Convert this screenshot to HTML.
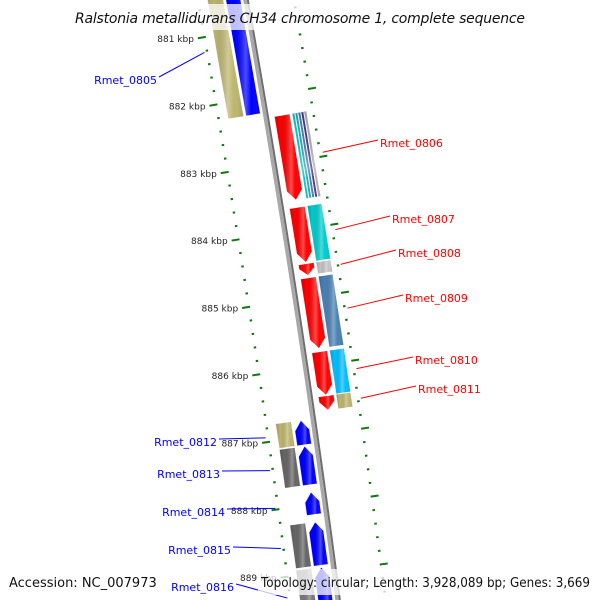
<!DOCTYPE html>
<html><head><meta charset="utf-8"><style>
html,body{margin:0;padding:0;background:#fff;width:600px;height:600px;overflow:hidden}
svg{display:block}
text{font-family:"DejaVu Sans","Liberation Sans",sans-serif}
</style></head><body>
<svg id="map" width="600" height="600" viewBox="0 0 600 600" xmlns="http://www.w3.org/2000/svg">
<defs>
<linearGradient id="shade" x1="0" y1="0" x2="1" y2="0">
<stop offset="0" stop-color="#000" stop-opacity="0.18"/>
<stop offset="0.25" stop-color="#000" stop-opacity="0"/>
<stop offset="0.6" stop-color="#fff" stop-opacity="0.3"/>
<stop offset="0.75" stop-color="#fff" stop-opacity="0"/>
<stop offset="1" stop-color="#000" stop-opacity="0.15"/>
</linearGradient>
</defs>
<g id="layer"></g>
</svg>
<script>
// data (kbp)
const featNames  = ["Rmet_0805","Rmet_0806","Rmet_0807","Rmet_0808","Rmet_0809","Rmet_0810","Rmet_0811","Rmet_0812","Rmet_0813","Rmet_0814","Rmet_0815","Rmet_0816"];
const featStart  = [880.2,882.31,883.67,884.50,884.71,885.80,886.45,886.75,887.13,887.81,888.25,888.92];
const featEnd    = [882.24,883.57,884.49,884.68,885.76,886.45,886.67,887.12,887.71,888.15,888.90,889.7];
const featStrand = [-1,1,1,1,1,1,1,-1,-1,-1,-1,-1];
const cogColor   = ["#bdb56f","multi","#00cccc","#c4c4c4","#4a80b4","#00bfff","#bdb56f","#bdb56f","#666666","","#666666","#777777"];
const tickKbp    = [881,882,883,884,885,886,887,888,889];
const labelX     = [157,378,390,396,403,413,416,217,220,225,231,234];
const labelY     = [80,143,219,253,298,360,389,442,474,512,550,587];

const svg = document.getElementById('layer');
const NS = 'http://www.w3.org/2000/svg';
function tOf(k){ return 29 + (k-881)*67.7; }
function bx(t){ return 246 + 0.177*t - 3.94e-5*t*t; }
function slope(t){ return 0.177 - 2*3.94e-5*t; }
function pt(t,r){ const s=slope(t), n=Math.sqrt(1+s*s); return [bx(t)+r/n, t - r*s/n]; }
function mk(tag, attrs){ const e=document.createElementNS(NS,tag); for(const k in attrs) e.setAttribute(k,attrs[k]); svg.appendChild(e); return e; }
function poly(pts){ return pts.map(p=>p[0].toFixed(2)+','+p[1].toFixed(2)).join(' '); }

// backbone
let bb1=[], bb2=[];
for(let t=-20;t<=630;t+=10){ bb1.push(pt(t,-1)); bb2.push(pt(t,1.8)); }
let e=mk('polyline',{points:poly(bb1),fill:'none',stroke:'#a8a8a8','stroke-width':3.5});


e=mk('polyline',{points:poly(bb2),fill:'none',stroke:'#6e6e6e','stroke-width':2});



// rulers
for(let k=880; k<=889.8; k+=0.2){
  const kk=Math.round(k*10)/10, t=tOf(kk), major=Math.abs(kk-Math.round(kk))<0.01;
  const lenL = major?8:2.5;
  let a=pt(t,-46), b=pt(t,-46-lenL);
  e=mk('line',{x1:a[0],y1:a[1],x2:b[0],y2:b[1],stroke:'#117711','stroke-width':2});
  
  
  a=pt(t,46); b=pt(t,46+lenL);
  e=mk('line',{x1:a[0],y1:a[1],x2:b[0],y2:b[1],stroke:'#117711','stroke-width':2});
  
  
}
tickKbp.forEach(k=>{
  const p=pt(tOf(k),-58);
  e=mk('text',{x:p[0],y:p[1]+3,'font-size':9,'text-anchor':'end',fill:'#222'});
  e.textContent=k+' kbp';
  
  
});

// features
function shape(t1,t2,r1,r2,strand,arrow){
  const h=Math.min(10,(t2-t1)*0.6), m=(r1+r2)/2;
  if(!arrow) return [pt(t1,r1),pt(t1,r2),pt(t2,r2),pt(t2,r1)];
  if(strand>0) return [pt(t1,r1),pt(t1,r2),pt(t2-h,r2),pt(t2,m),pt(t2-h,r1)];
  return [pt(t1+h,r1),pt(t1,m),pt(t1+h,r2),pt(t2,r2),pt(t2,r1)];
}
function drawShape(pts,fill,name){
  let g=mk('polygon',{points:poly(pts),fill:fill,stroke:'#fff','stroke-width':1});
  
  
  g=mk('polygon',{points:poly(pts),fill:'url(#shade)'});
  
  
}
featNames.forEach((nm,i)=>{
  const t1=tOf(featStart[i]), t2=tOf(featEnd[i]), s=featStrand[i];
  const gene = s>0 ? [8,24] : [-20,-5];
  const cog  = s>0 ? [26,41] : [-38,-22];
  drawShape(shape(t1,t2,gene[0],gene[1],s,true), s>0?'#ff0000':'#0000ff', 'gene-'+nm);
  const c=cogColor[i];
  if(c==='multi'){
    const cols=['#00cccc','#30a8b8','#4a80b4','#483d8b','#b0b0b0'];
    const w=(cog[1]-cog[0])/cols.length;
    cols.forEach((cc,j)=>drawShape(shape(t1,t2,cog[0]+j*w,cog[0]+(j+1)*w,s,false),cc,'cog-'+nm+'-'+j));
  } else if(c){
    drawShape(shape(t1,t2,cog[0],cog[1],s,false),c,'cog-'+nm);
  }
  // label
  const tm=(t1+t2)/2, p=pt(tm, s>0?50:-50);
  let tc = s>0 ? Math.max(t1,Math.min(tm,t2)) : tm;
  const col = s>0?'#ff0000':'#0000ff';
  const lx = labelX[i], ly = labelY[i];
  let ln=mk('line',{x1:p[0],y1:p[1],x2:s>0?lx:lx+2,y2:ly-3,stroke:col,'stroke-width':1});
  
  
  let tx=mk('text',{x:s>0?lx+2:lx,y:ly+4,'font-size':11,'text-anchor':s>0?'start':'end',fill:col});
  tx.textContent=nm;
  
  
});

// overlays
e=mk('rect',{x:70,y:4,width:462,height:26,fill:'#fff','fill-opacity':0.75});


e=mk('text',{x:300,y:23,'font-size':14,'font-style':'italic','text-anchor':'middle',fill:'#111',textLength:450,lengthAdjust:'spacing'});
e.textContent='Ralstonia metallidurans CH34 chromosome 1, complete sequence';


e=mk('rect',{x:258,y:569,width:336,height:26,fill:'#fff','fill-opacity':0.75});


e=mk('text',{x:9,y:587,'font-size':13,fill:'#111'});
e.textContent='Accession: NC_007973';


e=mk('text',{x:590,y:587,'font-size':13,'text-anchor':'end',fill:'#111',textLength:329,lengthAdjust:'spacingAndGlyphs'});
e.textContent='Topology: circular; Length: 3,928,089 bp; Genes: 3,669';


</script>
</body></html>
